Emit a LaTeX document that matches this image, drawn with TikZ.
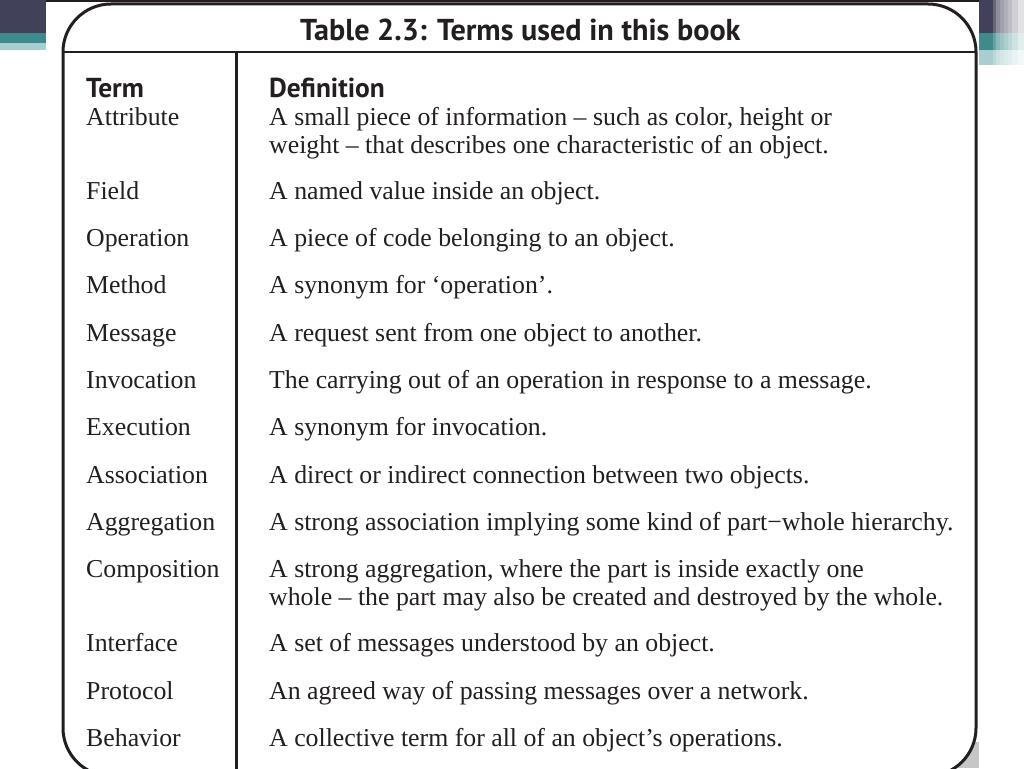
\documentclass[tikz,border=0pt]{standalone}
\usepackage{fontspec}
\setmainfont{Liberation Serif}
\newfontfamily\headfont{PT Sans}
\definecolor{navy}{HTML}{414159}
\definecolor{tealc}{HTML}{3E8B8B}
\definecolor{lteal}{HTML}{A9CED0}
\definecolor{ink}{HTML}{231F20}
\begin{document}
\begin{tikzpicture}[x=1pt,y=-1pt,
  termtext/.style={anchor=base west,inner sep=0pt,font=\fontsize{25.8}{30}\selectfont,text=ink},
  deftext/.style={anchor=base west,inner sep=0pt,font=\fontsize{25.8}{30}\selectfont,text=ink},
  headtext/.style={anchor=base west,inner sep=0pt,font=\headfont\bfseries\fontsize{27.4}{32}\selectfont,text=ink},
  titletext/.style={anchor=base west,inner sep=0pt,font=\headfont\bfseries\fontsize{30.2}{36}\selectfont,text=ink},
  frameline/.style={line width=3pt,draw=ink}]
\useasboundingbox (0,0) rectangle (1024,768);
\clip (0,0) rectangle (1024,768);
% decorations
\fill[navy] (0,0) rectangle (46,33);
\fill[tealc] (0,33) rectangle (46,43);
\fill[lteal] (0,43) rectangle (46,50);
\foreach \xa/\xb/\op in {979/993/1, 993/996/0.8, 996/1000/0.6, 1000/1004/0.5, 1004/1008/0.42, 1008/1012/0.35, 1012/1018/0.25, 1018/1024/0.15}{
  \fill[navy,opacity=\op] (\xa,0) rectangle (\xb,33);
  \fill[tealc,opacity=\op] (\xa,33) rectangle (\xb,50);
  \fill[lteal,opacity=\op] (\xa,50) rectangle (\xb,65);
}
% shadow in bottom right corner
\fill[gray!45] (935,742) rectangle (979,768);
% frame
\draw[line width=1.2pt,draw=ink] (46,1) -- (979,1);
\draw[frameline,fill=white,rounded corners=48pt] (63,4) rectangle (976,776);
\coordinate (hl) at (63,52);
\coordinate (hr) at (976,52);
\coordinate (vt) at (236,52);
\coordinate (vb) at (236,776);
\draw[line width=2.5pt,draw=ink] (hl) -- (hr);
\draw[frameline] (vt) -- (vb);
% title and headers
\node[titletext] (title) at (300,41) {Table 2.3: Terms used in this book};
\node[headtext] (hterm) at (86,97) {Term};
\node[headtext] (hdef) at (269,97) {Definition};
% terms
\foreach \n/\y/\t in {1/125/Attribute, 2/199/Field, 3/246/Operation, 4/293/Method, 5/341/Message, 6/388/Invocation, 7/435/Execution, 8/483/Association, 9/530/Aggregation, 10/577/Composition, 11/651/Interface, 12/699/Protocol, 13/746/Behavior}{
  \node[termtext] (term\n) at (86,\y) {\t};
}
% definitions
\node[deftext] (def1) at (269,125) {A small piece of information -- such as color, height or};
\node[deftext] (def1b) at (269,153) {weight -- that describes one characteristic of an object.};
\node[deftext] (def2) at (269,199) {A named value inside an object.};
\node[deftext] (def3) at (269,246) {A piece of code belonging to an object.};
\node[deftext] (def4) at (269,293) {A synonym for `operation'.};
\node[deftext] (def5) at (269,341) {A request sent from one object to another.};
\node[deftext] (def6) at (269,388) {The carrying out of an operation in response to a message.};
\node[deftext] (def7) at (269,435) {A synonym for invocation.};
\node[deftext] (def8) at (269,483) {A direct or indirect connection between two objects.};
\node[deftext] (def9) at (269,530) {A strong association implying some kind of part\textminus whole hierarchy.};
\node[deftext] (def10) at (269,577) {A strong aggregation, where the part is inside exactly one};
\node[deftext] (def10b) at (269,605) {whole -- the part may also be created and destroyed by the whole.};
\node[deftext] (def11) at (269,651) {A set of messages understood by an object.};
\node[deftext] (def12) at (269,699) {An agreed way of passing messages over a network.};
\node[deftext] (def13) at (269,746) {A collective term for all of an object's operations.};
\end{tikzpicture}
\end{document}
